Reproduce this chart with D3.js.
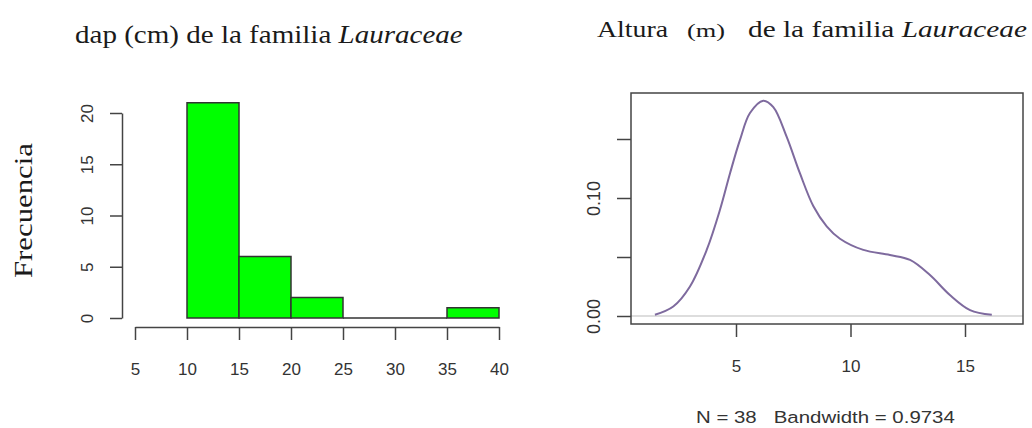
<!DOCTYPE html>
<html>
<head>
<meta charset="utf-8">
<script src="https://cdn.jsdelivr.net/npm/d3@7"></script>
<style>
  body { margin: 0; background: #fff; }
</style>
</head>
<body>
<svg id="chart" width="1032" height="428"></svg>
<script>
// histograma dap (cm)
var binEdges = [10, 15, 20, 25, 30, 35, 40]
var counts = [21, 6, 2, 0, 0, 1]
var dapTicks = [5, 10, 15, 20, 25, 30, 35, 40]
var freqTicks = [0, 5, 10, 15, 20]

// densidad altura (m)
var altX = [1.46, 2.26, 2.99, 3.72, 4.30, 4.74, 5.17, 5.61, 6.19, 6.63, 7.21, 7.79, 8.38, 8.96, 9.54, 10.56, 11.72, 12.60, 13.47, 14.34, 15.22, 16.17]
var altY = [0.001, 0.008, 0.025, 0.056, 0.090, 0.121, 0.149, 0.172, 0.1825, 0.177, 0.152, 0.121, 0.093, 0.076, 0.0655, 0.056, 0.0517, 0.0475, 0.0347, 0.0178, 0.005, 0.001]
var altTicks = [5, 10, 15]
var densTicks = [0, 0.05, 0.10, 0.15]
var densLabels = ["0.00", "", "0.10", ""]

var serif = "'Liberation Serif', 'Times New Roman', serif"
var sans = "'Liberation Sans', Arial, sans-serif"
var axisCol = "#444"
var textCol = "#333"

var svg = d3.select("#chart")

// text stretched to the width it has in the picture
function fitText(x, y, str, size, w, opts) {
    opts = opts || {}
    var g = svg.append("g")
    var t = g.append("text")
        .attr("x", 0)
        .attr("y", 0)
        .style("font-family", opts.family || serif)
        .style("font-size", size + "px")
        .style("white-space", "pre")
        .attr("fill", opts.fill || "#1a1a1a")
    if (opts.italic) {
        t.append("tspan").text(str)
        t.append("tspan").style("font-style", "italic").text(opts.italic)
    } else {
        t.text(str)
    }
    var len = t.node().getComputedTextLength()
    var rot = opts.rotate ? " rotate(-90)" : ""
    g.attr("transform", "translate(" + x + "," + y + ")" + rot + " scale(" + (w / len) + ",1)")
    return g
}

// ---------- histograma ----------
var xH = d3.scaleLinear().domain([5, 40]).range([135, 499])
var yH = d3.scaleLinear().domain([0, 20]).range([318, 113])

counts.forEach((c, i) => {
    var x0 = xH(binEdges[i]), x1 = xH(binEdges[i + 1])
    var y0 = yH(0), y1 = yH(c)
    svg.append("path")
        .attr("d", "M" + x0 + "," + y0 + "V" + y1 + "H" + x1 + "V" + y0 + "Z")
        .style("fill", "#00ff00")
        .style("stroke", "#333")
        .style("stroke-width", 1.5)
})

var gxH = svg.append("g")
    .attr("transform", "translate(0,327)")
    .call(d3.axisBottom(xH).tickValues(dapTicks).tickSize(13).tickSizeOuter(0))
gxH.selectAll("text")
    .attr("y", 48).attr("dy", 0)
    .style("font-family", sans).style("font-size", "17px").attr("fill", textCol)

var gyH = svg.append("g")
    .attr("transform", "translate(122,0)")
    .call(d3.axisLeft(yH).tickValues(freqTicks).tickSize(12).tickSizeOuter(0))
gyH.selectAll("text")
    .attr("transform", "rotate(-90)")
    .attr("x", 0).attr("y", -35).attr("dy", "0.35em")
    .style("text-anchor", "middle")
    .style("font-family", sans).style("font-size", "17px").attr("fill", textCol)

svg.selectAll(".domain, .tick line")
    .style("stroke", axisCol).style("stroke-width", 1.5)

fitText(75, 43, "dap (cm) de la familia ", 26, 388, { italic: "Lauraceae" })
fitText(32, 278, "Frecuencia", 26, 135, { rotate: true })

// ---------- densidad ----------
var xD = d3.scaleLinear().domain([5, 15]).range([736, 965])
var yD = d3.scaleLinear().domain([0, 0.15]).range([316, 139])

svg.append("line")
    .attr("x1", 631).attr("x2", 1023)
    .attr("y1", yD(0)).attr("y2", yD(0))
    .style("stroke", "#bbb").style("stroke-width", 1.2)

var line = d3.line()
    .x((d, i) => xD(altX[i]))
    .y(d => yD(d))
    .curve(d3.curveCatmullRom.alpha(0.5))

svg.append("path")
    .attr("d", line(altY))
    .style("fill", "none")
    .style("stroke", "#7e6a9e")
    .style("stroke-width", 2)

svg.append("rect")
    .attr("x", 631).attr("y", 93)
    .attr("width", 392).attr("height", 231)
    .style("fill", "none").style("stroke", axisCol).style("stroke-width", 1.5)

var gxD = svg.append("g")
    .attr("transform", "translate(0,324)")
    .call(d3.axisBottom(xD).tickValues(altTicks).tickSize(13))
gxD.select(".domain").remove()
gxD.selectAll("text")
    .attr("y", 48).attr("dy", 0)
    .style("font-family", sans).style("font-size", "17px").attr("fill", textCol)

var gyD = svg.append("g")
    .attr("transform", "translate(631,0)")
    .call(d3.axisLeft(yD).tickValues(densTicks).tickSize(14).tickFormat((d, i) => densLabels[i]))
gyD.select(".domain").remove()
gyD.selectAll("text")
    .attr("transform", "rotate(-90)")
    .attr("x", 0).attr("y", -37).attr("dy", "0.35em")
    .style("text-anchor", "middle")
    .style("font-family", sans).style("font-size", "18px").attr("fill", textCol)

svg.selectAll(".tick line")
    .style("stroke", axisCol).style("stroke-width", 1.5)

fitText(597, 37, "Altura", 23, 71)
fitText(687, 37, "(m)", 19, 38)
fitText(748, 37, "de la familia ", 23, 279, { italic: "Lauraceae" })

fitText(696, 423, "N = 38   Bandwidth = 0.9734", 17, 259, { family: sans, fill: textCol })
</script>
</body>
</html>
